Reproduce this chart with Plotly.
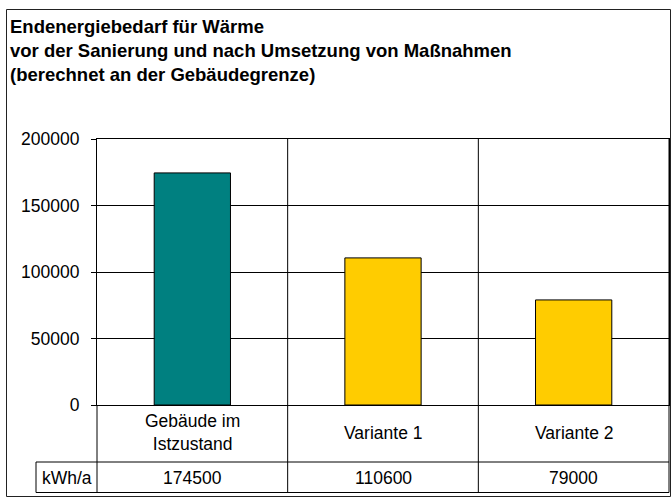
import plotly.graph_objects as go

# chart data
categories = ["Gebäude im<br>Istzustand", "Variante 1", "Variante 2"]
values = [174500, 110600, 79000]
bar_colors = ["#008080", "#FFCC00", "#FFCC00"]
unit_label = "kWh/a"
y_ticks = [0, 50000, 100000, 150000, 200000]
title_lines = [
    "Endenergiebedarf für Wärme",
    "vor der Sanierung und nach Umsetzung von Maßnahmen",
    "(berechnet an der Gebäudegrenze)",
]

W, H = 672, 499
L, R, T, B = 97, 669, 139, 405  # plot area in pixels
pw, ph = R - L, B - T
FONT = "Liberation Sans, Arial, sans-serif"
FS = 17.5


def px(x):
    return (x - L) / pw


def py(y):
    return (B - y) / ph


n = len(categories)
xs = list(range(n))

fig = go.Figure()
fig.add_trace(go.Bar(
    x=xs,
    y=values,
    width=0.4,
    marker=dict(color=bar_colors, line=dict(color="black", width=1)),
    hoverinfo="skip",
))

shapes = []
line = dict(color="black", width=1)
# outer frame
shapes.append(dict(type="rect", xref="paper", yref="paper",
                   x0=px(6.5), x1=px(670.5), y0=py(496.5), y1=py(9.5),
                   line=dict(color="#222222", width=1)))
# vertical category separators running through the data table
for b in range(1, n):
    shapes.append(dict(type="line", xref="x", yref="paper",
                       x0=b - 0.5, x1=b - 0.5, y0=py(492.5), y1=1, line=line))
# table borders
shapes.append(dict(type="line", xref="paper", yref="paper",
                   x0=0, x1=0, y0=py(492.5), y1=0, line=line))
shapes.append(dict(type="line", xref="paper", yref="paper",
                   x0=1, x1=1, y0=py(492.5), y1=1, line=line))
shapes.append(dict(type="line", xref="paper", yref="paper",
                   x0=px(36), x1=1, y0=py(462), y1=py(462), line=line))
shapes.append(dict(type="line", xref="paper", yref="paper",
                   x0=px(36), x1=1, y0=py(492.5), y1=py(492.5), line=line))
shapes.append(dict(type="line", xref="paper", yref="paper",
                   x0=px(36), x1=px(36), y0=py(492.5), y1=py(462), line=line))

annotations = []
for i, (c, v) in enumerate(zip(categories, values)):
    annotations.append(dict(x=i, y=py(433), xref="x", yref="paper",
                            xanchor="center", yanchor="middle",
                            text=c, showarrow=False))
    annotations.append(dict(x=i, y=py(478), xref="x", yref="paper",
                            xanchor="center", yanchor="middle",
                            text=str(v), showarrow=False))
annotations.append(dict(x=px(66.5), y=py(478), xref="paper", yref="paper",
                        xanchor="center", yanchor="middle",
                        text=unit_label, showarrow=False))
annotations.append(dict(x=px(8), y=py(14), xref="paper", yref="paper",
                        xanchor="left", yanchor="top", align="left",
                        text="<b>" + "<br>".join(title_lines) + "</b>",
                        showarrow=False,
                        font=dict(size=18.5, color="black")))

fig.update_layout(
    width=W, height=H,
    margin=dict(l=L, r=W - R, t=T, b=H - B, pad=0),
    paper_bgcolor="white",
    plot_bgcolor="white",
    font=dict(family=FONT, size=FS, color="black"),
    showlegend=False,
    xaxis=dict(range=[-0.5, n - 0.5], showticklabels=False, showgrid=False,
               zeroline=False, showline=True, linecolor="black", mirror=True,
               fixedrange=True),
    yaxis=dict(range=[0, 200000], tickvals=y_ticks, tickformat="d",
               ticks="outside", ticklen=5, tickcolor="black",
               ticklabelstandoff=8, showgrid=True,
               gridcolor="black", gridwidth=1, zeroline=False,
               showline=True, linecolor="black", mirror=True,
               fixedrange=True),
    shapes=shapes,
    annotations=annotations,
)

# the page body has a default margin; remove it so pixels line up
fig.write_html("out.html", config={"displayModeBar": False},
               post_script="document.body.style.margin='0';")
